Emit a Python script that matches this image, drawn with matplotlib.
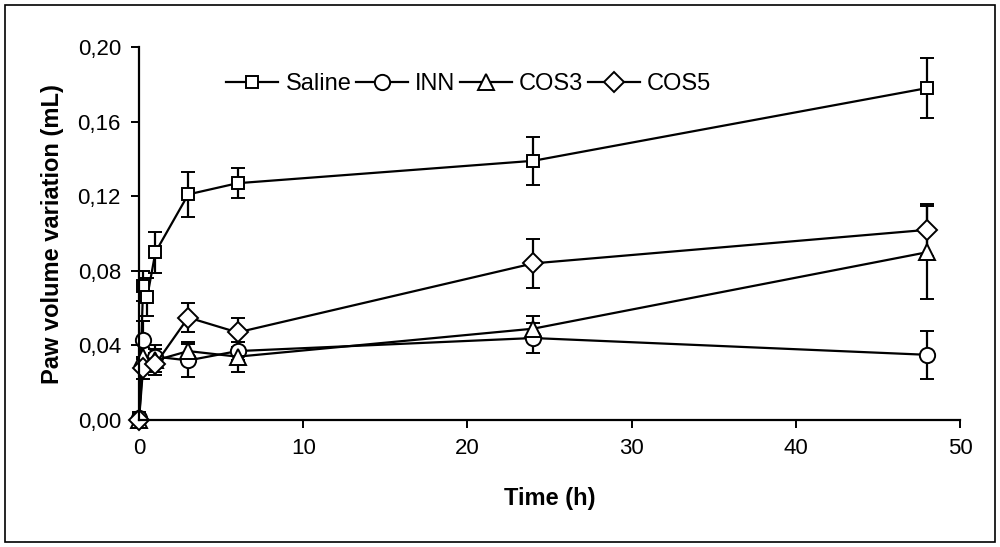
import numpy as np
import matplotlib.pyplot as plt
from matplotlib.ticker import FuncFormatter

plt.rcParams['font.family'] = ['Liberation Sans', 'DejaVu Sans']

# dados
t_saline = [0, 0.25, 0.5, 1, 3, 6, 24, 48]
saline = [0.001, 0.072, 0.066, 0.090, 0.121, 0.127, 0.139, 0.178]
saline_err = [0, 0.008, 0.010, 0.011, 0.012, 0.008, 0.013, 0.016]

t = [0, 0.25, 1, 3, 6, 24, 48]
inn = [0.001, 0.043, 0.034, 0.032, 0.037, 0.044, 0.035]
inn_err = [0, 0.010, 0.006, 0.009, 0.005, 0.008, 0.013]

cos3 = [0.000, 0.034, 0.032, 0.037, 0.034, 0.049, 0.090]
cos3_err = [0, 0.006, 0.006, 0.005, 0.008, 0.007, 0.025]

cos5 = [0.000, 0.028, 0.030, 0.055, 0.047, 0.084, 0.102]
cos5_err = [0, 0.006, 0.006, 0.008, 0.008, 0.013, 0.014]

fig = plt.figure(figsize=(10, 5.47), dpi=100)
ax = fig.add_axes([0.139, 0.232, 0.821, 0.682])

kw = dict(color='black', mfc='white', mec='black', lw=1.6, mew=1.4,
          capsize=5, elinewidth=1.6, capthick=1.6, clip_on=False)
ax.errorbar(t_saline, saline, yerr=saline_err, marker='s', ms=8, label='Saline', **kw)
ax.errorbar(t, inn, yerr=inn_err, marker='o', ms=11, label='INN', **kw)
ax.errorbar(t, cos3, yerr=cos3_err, marker='^', ms=12, label='COS3', **kw)
ax.errorbar(t, cos5, yerr=cos5_err, marker='D', ms=10, label='COS5', **kw)

ax.set_xlim(0, 50)
ax.set_ylim(0, 0.2)
ax.set_xticks([0, 10, 20, 30, 40, 50])
ax.set_yticks([0, 0.04, 0.08, 0.12, 0.16, 0.20])
ax.yaxis.set_major_formatter(FuncFormatter(lambda v, p: f'{v:.2f}'.replace('.', ',')))
ax.tick_params(direction='out', length=6, width=1.4, labelsize=16, pad=7)
for s in ['top', 'right']:
    ax.spines[s].set_visible(False)
for s in ['left', 'bottom']:
    ax.spines[s].set_linewidth(1.6)

ax.set_xlabel('Time (h)', fontsize=17, fontweight='bold', labelpad=20)
ax.set_ylabel('Paw volume variation (mL)', fontsize=17, fontweight='bold', labelpad=10)

handles, labels = ax.get_legend_handles_labels()
handles = [h[0] for h in handles]
ax.legend(handles, labels, loc='upper left', bbox_to_anchor=(0.095, 0.955), ncol=4,
          frameon=False, fontsize=17, handlelength=2.2, handletextpad=0.3,
          columnspacing=0.2, borderaxespad=0)

fig.patches.append(plt.Rectangle((0.005, 0.01), 0.99, 0.98, transform=fig.transFigure,
                                 fill=False, ec='black', lw=1.2))

fig.savefig('out.png', dpi=100)
